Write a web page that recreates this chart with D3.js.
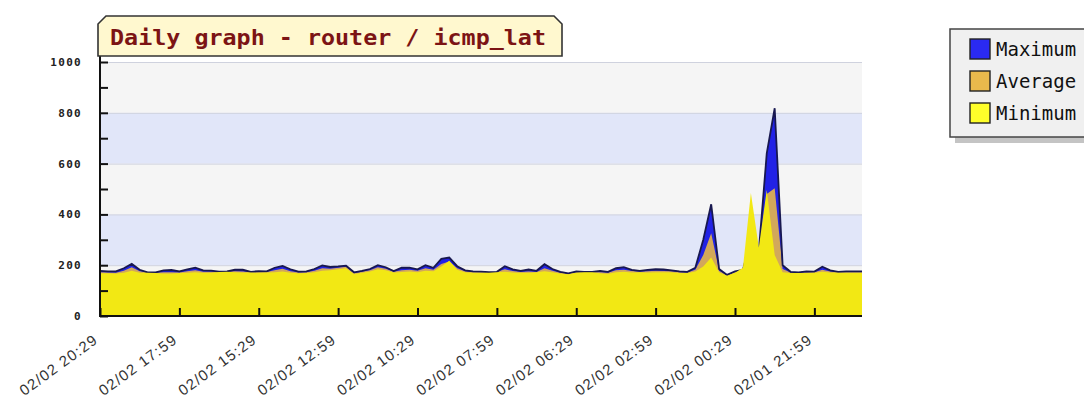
<!DOCTYPE html>
<html>
<head>
<meta charset="utf-8">
<script src="https://cdn.jsdelivr.net/npm/d3@7"></script>
<style>
  html, body { margin: 0; padding: 0; background: #ffffff; }
  svg { display: block; }
</style>
</head>
<body>
<svg id="chart" width="1084" height="400"></svg>
<script>
const title = "Daily graph - router / icmp_lat";
const seriesNames = ["Maximum", "Average", "Minimum"];
const yTicks = [0, 200, 400, 600, 800, 1000];
const tickLabels = ["02/02 20:29", "02/02 17:59", "02/02 15:29", "02/02 12:59", "02/02 10:29",
                    "02/02 07:59", "02/02 06:29", "02/02 02:59", "02/02 00:29", "02/01 21:59"];
const tickEvery = 10;

const maxValues = [178,176,176,188,205,182,172,172,180,181,176,184,190,180,179,175,176,182,182,174,
                   177,176,190,197,184,175,176,185,199,193,195,198,172,178,185,200,192,177,190,190,
                   184,200,190,225,230,196,180,176,175,173,174,196,184,178,183,178,204,185,174,168,
                   176,174,174,178,174,188,192,182,178,182,184,183,180,176,174,190,300,440,185,162,
                   176,182,300,255,640,818,200,174,172,176,175,194,180,174,176,176,176];
const avgValues = [172,171,170,178,192,176,171,170,172,172,171,176,180,174,174,174,175,176,175,172,
                   173,173,180,186,176,171,172,178,188,186,190,194,168,174,180,192,186,174,180,182,
                   178,188,182,205,215,188,176,172,172,171,173,184,177,173,175,173,188,178,170,166,
                   172,173,173,172,170,180,182,177,174,176,178,177,176,172,171,182,240,326,178,160,
                   172,178,290,250,480,503,185,171,170,172,172,182,175,172,172,172,172];
const minValues = [168,168,167,170,178,170,170,169,167,167,169,170,172,170,170,173,174,172,171,171,
                   170,171,172,175,170,168,169,172,178,180,184,188,165,170,175,184,180,171,173,175,
                   172,178,176,195,218,182,172,170,170,170,172,174,171,170,170,172,176,172,167,164,
                   170,172,172,168,166,172,174,171,172,171,172,172,172,169,169,175,195,230,172,158,
                   170,190,484,270,496,240,172,169,169,169,170,174,171,170,170,170,170];

const colors = { max: "#2222e6", avg: "#d2a85a", min: "#f2e814", line: "#181850" };
const legendColors = ["#2a2af2", "#e9b94c", "#ffff2a"];

const svg = d3.select("#chart");
const plot = { left: 100, right: 862, top: 62, bottom: 316 };

const x = d3.scaleLinear().domain([0, maxValues.length - 1]).range([plot.left, plot.right]);
const y = d3.scaleLinear().domain([0, 1000]).range([plot.bottom, plot.top]);

// background bands
const bands = d3.range(0, 1000, 200);
svg.append("g").selectAll("rect").data(bands).join("rect")
  .attr("x", plot.left).attr("width", plot.right - plot.left)
  .attr("y", d => y(d + 200)).attr("height", d => y(d) - y(d + 200))
  .attr("fill", (d, i) => i % 2 === 0 ? "#f5f5f5" : "#e1e6f9");
svg.append("g").selectAll("line").data(yTicks.filter(d => d > 0)).join("line")
  .attr("x1", plot.left).attr("x2", plot.right)
  .attr("y1", d => y(d) + 0.5).attr("y2", d => y(d) + 0.5)
  .attr("stroke", "#cfd2de").attr("stroke-width", 1);

const idx = d3.range(maxValues.length);
const areaOf = arr => d3.area().x(i => x(i)).y0(y(0)).y1(i => y(arr[i]));
svg.append("path").datum(idx).attr("d", areaOf(maxValues)).attr("fill", colors.max);
svg.append("path").datum(idx).attr("d", areaOf(avgValues)).attr("fill", colors.avg);
svg.append("path").datum(idx)
  .attr("d", d3.line().x(i => x(i)).y(i => y(maxValues[i])))
  .attr("fill", "none").attr("stroke", colors.line).attr("stroke-width", 1.8);
svg.append("path").datum(idx).attr("d", areaOf(minValues)).attr("fill", colors.min);

// axes
const yAxis = d3.axisLeft(y).tickValues(d3.range(0, 1001, 100)).tickSize(-8).tickPadding(18)
  .tickFormat(d => d % 200 === 0 ? d : "");
const gy = svg.append("g").attr("transform", `translate(${plot.left},0)`).call(yAxis);
gy.select(".domain").remove();
gy.selectAll(".tick line").attr("stroke", "#111").attr("stroke-width", 2);
gy.selectAll(".tick text")
  .attr("font-family", "'DejaVu Sans Mono', monospace").attr("font-weight", "bold")
  .attr("font-size", 11).attr("letter-spacing", 1.3).attr("fill", "#222");
svg.append("line").attr("x1", plot.left).attr("x2", plot.left)
  .attr("y1", 56).attr("y2", plot.bottom + 1)
  .attr("stroke", "#111").attr("stroke-width", 2);

const xTickIdx = tickLabels.map((d, k) => k * tickEvery);
const xAxis = d3.axisBottom(x).tickValues(xTickIdx).tickSize(-8)
  .tickFormat((d, k) => tickLabels[k]);
const gx = svg.append("g").attr("transform", `translate(0,${plot.bottom})`).call(xAxis);
gx.select(".domain").remove();
gx.selectAll(".tick line").attr("stroke", "#111").attr("stroke-width", 2);
gx.selectAll(".tick text")
  .attr("font-family", "'Liberation Sans', Arial, sans-serif")
  .attr("font-size", 15).attr("letter-spacing", 1.2).attr("fill", "#333")
  .attr("text-anchor", "end").attr("dy", 0).attr("y", 0)
  .attr("transform", "translate(-1.5,26) rotate(-36)");
svg.append("line").attr("x1", plot.left - 1).attr("x2", plot.right)
  .attr("y1", plot.bottom).attr("y2", plot.bottom)
  .attr("stroke", "#111").attr("stroke-width", 2);

// title box
const tb = { l: 98, r: 562, t: 16, b: 56, c: 8 };
svg.append("path")
  .attr("d", `M${tb.l},${tb.b} L${tb.l},${tb.t + tb.c} L${tb.l + tb.c},${tb.t} L${tb.r - tb.c},${tb.t} L${tb.r},${tb.t + tb.c} L${tb.r},${tb.b} Z`)
  .attr("fill", "#fff8cf").attr("stroke", "#333").attr("stroke-width", 1.6);
svg.append("text").attr("x", 110).attr("y", 45)
  .attr("font-family", "'DejaVu Sans Mono', monospace").attr("font-weight", "bold")
  .attr("font-size", 21).attr("fill", "#7c1414")
  .attr("textLength", 436).attr("lengthAdjust", "spacingAndGlyphs")
  .text(title);

// legend
const lg = svg.append("g");
lg.append("rect").attr("x", 955).attr("y", 35).attr("width", 140).attr("height", 108).attr("fill", "#c4c4c4");
lg.append("rect").attr("x", 950).attr("y", 29).attr("width", 140).attr("height", 108)
  .attr("fill", "#f0f0f0").attr("stroke", "#444").attr("stroke-width", 1.5);
const items = lg.selectAll("g.item").data(seriesNames).join("g")
  .attr("transform", (d, i) => `translate(970,${39 + i * 32})`);
items.append("rect").attr("width", 20).attr("height", 20)
  .attr("fill", (d, i) => legendColors[i]).attr("stroke", "#222").attr("stroke-width", 1.4);
items.append("text").attr("x", 26).attr("y", 17)
  .attr("font-family", "'DejaVu Sans Mono', monospace").attr("font-size", 19)
  .attr("fill", "#111").text(d => d);
</script>
</body>
</html>
